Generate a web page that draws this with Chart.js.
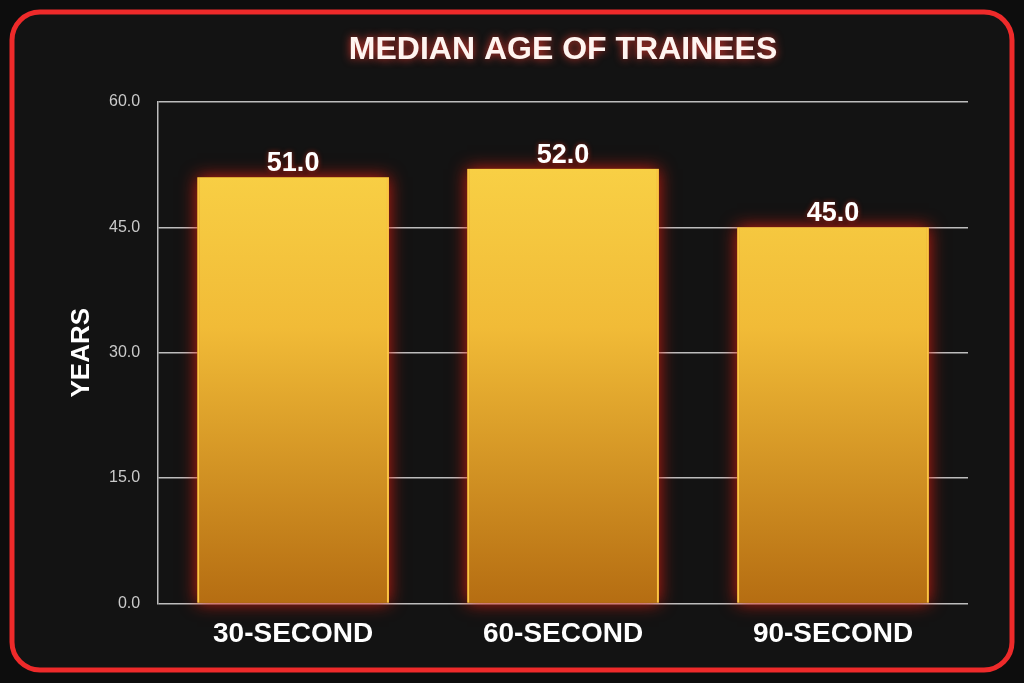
<!DOCTYPE html>
<html>
<head>
<meta charset="utf-8">
<script src="https://cdn.jsdelivr.net/npm/chart.js@4"></script>
<style>
  html, body { margin: 0; padding: 0; background: #0d0d0d; }
  #wrap { width: 1024px; height: 683px; }
</style>
</head>
<body>
<div id="wrap"><canvas id="myChart" width="1024" height="683"></canvas></div>
<script>
const labels = ["30-SECOND", "60-SECOND", "90-SECOND"]
const ages = [51, 52, 45]
const titleText = "MEDIAN AGE OF TRAINEES"
const yTitle = "YEARS"

const font = "'Liberation Sans', Arial, sans-serif"
const ctx = document.getElementById("myChart").getContext("2d")

// dark card with red rounded border, title centred over the plot, axis title
const frame = {
    id: "frame",
    beforeDraw: (chart) => {
        const c = chart.ctx
        c.save()
        c.fillStyle = "#0d0d0d"
        c.fillRect(0, 0, chart.width, chart.height)
        c.beginPath()
        c.roundRect(12, 12, 1000, 658, 28)
        c.fillStyle = "#131313"
        c.fill()
        c.lineWidth = 5
        c.strokeStyle = "#ee2a2a"
        c.stroke()

        const area = chart.chartArea
        c.font = "bold 32px " + font
        c.textAlign = "center"
        c.textBaseline = "middle"
        c.shadowColor = "rgba(240, 60, 50, 0.9)"
        c.shadowBlur = 8
        c.fillStyle = "#fff4f0"
        c.fillText(titleText, (area.left + area.right) / 2, 50)
        c.restore()

        c.save()
        c.translate(82, (area.top + area.bottom) / 2)
        c.rotate(-Math.PI / 2)
        c.font = "bold 26px " + font
        c.textAlign = "center"
        c.textBaseline = "middle"
        c.fillStyle = "#ffffff"
        c.fillText(yTitle, 0, 0)
        c.restore()
    }
}

// red glow behind bars, value labels on top
const glow = {
    id: "glow",
    beforeDatasetsDraw: (chart) => {
        const c = chart.ctx
        c.save()
        c.shadowColor = "rgba(235, 30, 15, 0.85)"
        c.shadowBlur = 16
        c.fillStyle = "#c98a1e"
        chart.getDatasetMeta(0).data.forEach((bar) => {
            c.fillRect(bar.x - bar.width / 2, bar.y, bar.width, bar.base - bar.y)
        })
        c.restore()
    },
    afterDatasetsDraw: (chart) => {
        const c = chart.ctx
        c.save()
        c.font = "bold 27px " + font
        c.fillStyle = "#ffffff"
        c.textAlign = "center"
        c.textBaseline = "alphabetic"
        c.shadowColor = "rgba(230, 40, 20, 0.6)"
        c.shadowBlur = 5
        chart.getDatasetMeta(0).data.forEach((bar, i) => {
            c.fillText(ages[i].toFixed(1), bar.x, bar.y - 6)
        })
        c.restore()
    }
}

const chart = new Chart(ctx, {
    type: "bar",
    data: {
        labels: labels,
        datasets: [{
            label: "Median age",
            data: ages,
            backgroundColor: (context) => {
                const area = context.chart.chartArea
                if (!area) return "#f2c13a"
                const g = context.chart.ctx.createLinearGradient(0, area.top, 0, area.bottom)
                g.addColorStop(0, "#fbd84a")
                g.addColorStop(0.45, "#f1bb37")
                g.addColorStop(1, "#b56d12")
                return g
            },
            borderColor: "rgba(255, 200, 70, 0.95)",
            borderWidth: { left: 2, right: 2, top: 0, bottom: 0 },
            borderSkipped: false,
            barPercentage: 0.71,
            categoryPercentage: 1
        }]
    },
    options: {
        responsive: false,
        animation: false,
        devicePixelRatio: 1,
        layout: { padding: { left: 91, right: 56, top: 102, bottom: 26 } },
        plugins: {
            legend: { display: false },
            tooltip: { enabled: false },
            title: { display: false }
        },
        scales: {
            x: {
                grid: { display: false },
                border: { display: false },
                ticks: {
                    color: "#ffffff",
                    font: { size: 28, weight: "bold", family: font },
                    padding: 6
                }
            },
            y: {
                min: 0,
                max: 60,
                ticks: {
                    stepSize: 15,
                    color: "#cacaca",
                    padding: 18,
                    font: { size: 16, family: font },
                    callback: (v) => v.toFixed(1)
                },
                grid: { color: "#bdbdbd", lineWidth: 1.5, drawTicks: false },
                border: { display: true, color: "#bdbdbd", width: 1.5 }
            }
        }
    },
    plugins: [frame, glow]
})
</script>
</body>
</html>
